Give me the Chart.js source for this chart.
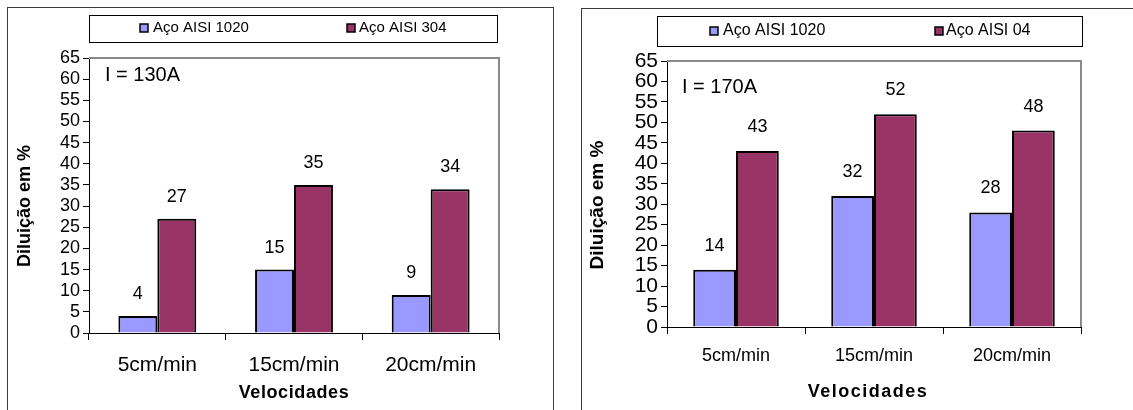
<!DOCTYPE html>
<html>
<head>
<meta charset="utf-8">
<script src="https://cdn.jsdelivr.net/npm/chart.js@4.4.0/dist/chart.umd.min.js"></script>
<style>
	body { margin: 0; width: 1133px; height: 410px; overflow: hidden; background: #fff; position: relative; }
	.frame { position: absolute; border: 1.5px solid #3a3a3a; box-sizing: border-box; }
	canvas { position: absolute; top: 0; }
</style>
</head>
<body>
<div class="frame" style="left:7px;top:7px;width:547px;height:420px"></div>
<div class="frame" style="left:581px;top:8px;width:600px;height:420px"></div>
<canvas id="chart130" width="566" height="410" style="left:0"></canvas>
<canvas id="chart170" width="567" height="410" style="left:566px"></canvas>
<script>
const categories = ["5cm/min", "15cm/min", "20cm/min"];
const seriesNames130 = ["Aço AISI 1020", "Aço AISI 304"];
const seriesNames170 = ["Aço AISI 1020", "Aço AISI 04"];
const aisi1020At130 = [4, 15, 9];
const aisi304At130 = [27, 35, 34];
const aisi1020At170 = [14, 32, 28];
const aisi304At170 = [43, 52, 48];
const yTickValues = [0, 5, 10, 15, 20, 25, 30, 35, 40, 45, 50, 55, 60, 65];
const yTitle = "Diluição em %";
const xTitle = "Velocidades";

const FONT = '"Liberation Sans", Arial, sans-serif';
const BLUE = "#9999ff";
const PURPLE = "#993366";

Chart.defaults.font.family = FONT;
Chart.defaults.color = "#000";

// texts, legend box, plot border and value labels
const extrasPlugin = {
	id: "extras",
	afterDatasetsDraw(chart, args, o) {
		const ctx = chart.ctx;
		ctx.save();
		ctx.fillStyle = "#000";
		ctx.textAlign = "center";
		ctx.textBaseline = "middle";
		ctx.font = `${o.labelFont}px ${FONT}`;
		chart.data.datasets.forEach((ds, i) => {
			chart.getDatasetMeta(i).data.forEach((bar, j) => {
				ctx.fillText(String(ds.data[j]), bar.x, bar.y - o.labelGap);
			});
		});
		ctx.restore();
	},
	afterDraw(chart, args, o) {
		const ctx = chart.ctx;
		const a = chart.chartArea;
		ctx.save();

		// plot area frame (top + right in gray)
		ctx.strokeStyle = "#8a8a8a";
		ctx.lineWidth = 2;
		ctx.beginPath();
		ctx.moveTo(a.left, a.top);
		ctx.lineTo(a.right, a.top);
		ctx.lineTo(a.right, a.bottom);
		ctx.stroke();

		ctx.fillStyle = "#000";
		ctx.textBaseline = "middle";

		// current note
		ctx.textAlign = "left";
		ctx.font = `${o.noteFont}px ${FONT}`;
		ctx.fillText(o.note, o.noteAt[0], o.noteAt[1]);

		// axis titles
		ctx.textAlign = "center";
		ctx.font = `bold ${o.yTitleFont}px ${FONT}`;
		ctx.save();
		ctx.translate(o.yTitleAt[0], o.yTitleAt[1]);
		ctx.rotate(-Math.PI / 2);
		ctx.fillText(yTitle, 0, 0);
		ctx.restore();

		ctx.font = `bold ${o.xTitleFont}px ${FONT}`;
		ctx.letterSpacing = o.xTitleSpacing + "px";
		ctx.fillText(xTitle, o.xTitleAt[0], o.xTitleAt[1]);
		ctx.letterSpacing = "0px";

		// legend
		const lg = o.legend;
		ctx.strokeStyle = "#000";
		ctx.lineWidth = 1;
		ctx.strokeRect(lg.box[0] + 0.5, lg.box[1] + 0.5, lg.box[2], lg.box[3]);
		ctx.font = `${lg.font}px ${FONT}`;
		ctx.textAlign = "left";
		chart.data.datasets.forEach((ds, i) => {
			const [mx, tx] = lg.items[i];
			ctx.fillStyle = ds.backgroundColor;
			ctx.fillRect(mx, lg.markerY, lg.marker, lg.marker);
			ctx.lineWidth = 1.5;
			ctx.strokeRect(mx, lg.markerY, lg.marker, lg.marker);
			ctx.fillStyle = "#000";
			ctx.fillText(ds.label, tx, lg.markerY + lg.marker / 2);
		});
		ctx.restore();
	},
};

function makeChart(p) {
	const ctx = document.getElementById(p.id).getContext("2d");
	return new Chart(ctx, {
		type: "bar",
		data: {
			labels: categories,
			datasets: [
				{ label: p.names[0], data: p.s1, backgroundColor: BLUE },
				{ label: p.names[1], data: p.s2, backgroundColor: PURPLE },
			],
		},
		options: {
			responsive: false,
			animation: false,
			devicePixelRatio: 1,
			layout: {
				padding: { left: 0, top: p.area.top, right: p.canvasW - p.area.right, bottom: 0 },
			},
			datasets: {
				bar: {
					borderColor: "#000",
					borderWidth: 2,
					categoryPercentage: p.catPct,
					barPercentage: 1,
				},
			},
			plugins: {
				legend: { display: false },
				tooltip: { enabled: false },
				extras: p.extras,
			},
			scales: {
				x: {
					grid: { drawOnChartArea: false, drawTicks: true, tickLength: 7, color: "#000", offset: true },
					border: { display: true, color: "#000", width: 1 },
					ticks: { font: { size: p.xTickFont }, padding: p.xTickPad, maxRotation: 0, color: "#000" },
					afterFit: (scale) => { scale.height = 410 - p.area.bottom; },
				},
				y: {
					min: yTickValues[0],
					max: yTickValues[yTickValues.length - 1],
					afterBuildTicks: (scale) => { scale.ticks = yTickValues.map((v) => ({ value: v })); },
					grid: { drawOnChartArea: false, drawTicks: true, tickLength: 6, color: "#000" },
					border: { display: true, color: "#000", width: 1 },
					ticks: { font: { size: p.yTickFont }, padding: 3, color: "#000", autoSkip: false },
					afterFit: (scale) => { scale.width = p.area.left; },
				},
			},
		},
		plugins: [extrasPlugin],
	});
}

makeChart({
	id: "chart130",
	names: seriesNames130,
	s1: aisi1020At130,
	s2: aisi304At130,
	canvasW: 566,
	area: { left: 89, right: 499, top: 58, bottom: 333 },
	catPct: 0.57,
	xTickFont: 21,
	xTickPad: 13,
	yTickFont: 18,
	extras: {
		note: "I = 130A",
		noteAt: [105, 75],
		noteFont: 20,
		labelFont: 18,
		labelGap: 22,
		yTitleAt: [25, 206],
		yTitleFont: 18,
		xTitleAt: [294, 393],
		xTitleFont: 18,
		xTitleSpacing: 0.6,
		legend: { box: [89, 15, 408, 27], font: 15, marker: 8, markerY: 24, items: [[140, 153], [347, 359]] },
	},
});

makeChart({
	id: "chart170",
	names: seriesNames170,
	s1: aisi1020At170,
	s2: aisi304At170,
	canvasW: 567,
	area: { left: 101, right: 515, top: 61, bottom: 327 },
	catPct: 0.62,
	xTickFont: 18,
	xTickPad: 11,
	yTickFont: 21,
	extras: {
		note: "I = 170A",
		noteAt: [116, 87],
		noteFont: 20,
		labelFont: 18,
		labelGap: 24,
		yTitleAt: [32, 205],
		yTitleFont: 19,
		xTitleAt: [302, 392],
		xTitleFont: 18,
		xTitleSpacing: 1.5,
		legend: { box: [91, 16, 425, 30], font: 16, marker: 8, markerY: 27, items: [[144, 157], [369, 380]] },
	},
});
</script>
</body>
</html>
